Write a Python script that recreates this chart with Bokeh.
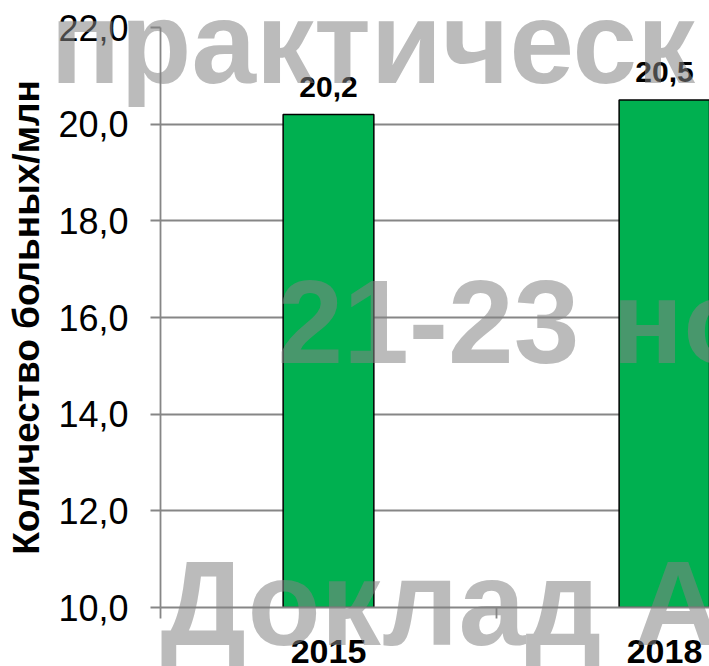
from bokeh.plotting import figure
from bokeh.models import Range1d, FixedTicker, ColumnDataSource, LabelSet
from bokeh.core.properties import value
from bokeh.embed import file_html
from bokeh.resources import INLINE

# ---- data ----
years = ["2015", "2018"]
values = [20.2, 20.5]
value_labels = ["20,2", "20,5"]
y_ticks = [10, 12, 14, 16, 18, 20, 22]
y_tick_labels = ["10,0", "12,0", "14,0", "16,0", "18,0", "20,0", "22,0"]
y_axis_title = "Количество больных/млн"
watermark_texts = ["практическ", "21-23 но", "Доклад А"]

# ---- styling ----
FONT = "Liberation Sans"
GREEN = "#00B050"
GRID = "#868686"
W, H = 709, 666

x_pos = list(range(len(years)))
src = ColumnDataSource(dict(x=x_pos, top=values, lab=value_labels))

p = figure(width=W, height=H, output_backend="svg", toolbar_location=None,
           x_range=Range1d(-0.5, 1.134), y_range=Range1d(10, 22),
           min_border_left=160, min_border_right=0, min_border_top=27, min_border_bottom=59)
p.outline_line_color = None
p.background_fill_color = "white"
p.border_fill_color = "white"

p.vbar(x="x", top="top", bottom=10, width=0.27, source=src,
       fill_color=GREEN, line_color="black", line_width=1.5)

# grid
p.xgrid.visible = False
p.ygrid.ticker = FixedTicker(ticks=y_ticks)
p.ygrid.grid_line_color = GRID
p.ygrid.grid_line_width = 1.8

# y axis
ya = p.yaxis[0]
ya.ticker = FixedTicker(ticks=y_ticks)
ya.major_label_overrides = {t: l for t, l in zip(y_ticks, y_tick_labels)}
ya.major_label_text_font = FONT
ya.major_label_text_font_size = "36px"
ya.major_label_text_color = "black"
ya.major_label_standoff = 22
ya.major_tick_out = 10
ya.major_tick_in = 0
ya.minor_tick_out = 0
ya.minor_tick_in = 0
ya.major_tick_line_color = GRID
ya.major_tick_line_width = 1.8
ya.axis_line_color = GRID
ya.axis_line_width = 1.8
ya.axis_label = y_axis_title
ya.axis_label_text_font = FONT
ya.axis_label_text_font_style = "bold"
ya.axis_label_text_font_size = "37px"
ya.axis_label_text_color = "black"
ya.axis_label_standoff = 8

# x axis
xa = p.xaxis[0]
xa.ticker = FixedTicker(ticks=x_pos, minor_ticks=[i - 0.5 for i in range(len(years) + 1)])
xa.major_label_overrides = {i: y for i, y in enumerate(years)}
xa.major_label_text_font = FONT
xa.major_label_text_font_style = "bold"
xa.major_label_text_font_size = "34px"
xa.major_label_text_color = "black"
xa.major_label_standoff = 21
xa.major_tick_out = 0
xa.major_tick_in = 0
xa.minor_tick_out = 11
xa.minor_tick_in = 0
xa.minor_tick_line_color = GRID
xa.minor_tick_line_width = 1.8
xa.axis_line_color = GRID
xa.axis_line_width = 1.8

# value labels
p.add_layout(LabelSet(x="x", y="top", text="lab", source=src, y_offset=18,
                      text_align="center", text_baseline="alphabetic",
                      text_font=value(FONT), text_font_style="bold", text_font_size="30px",
                      text_color="black"))

# ---- watermark overlay (decorative), pixel positions ----
wm_x = [50, 277, 160]
wm_y = [42, 321, 602]
wm_size = ["116px", "118px", "120px"]
wm = figure(width=W, height=H, output_backend="svg", toolbar_location=None,
            x_range=Range1d(0, W), y_range=Range1d(H, 0),
            min_border=0, min_border_left=0, min_border_right=0,
            min_border_top=0, min_border_bottom=0)
wm.axis.visible = False
wm.grid.visible = False
wm.outline_line_color = None
wm.background_fill_alpha = 0
wm.border_fill_alpha = 0
wsrc = ColumnDataSource(dict(x=wm_x, y=wm_y, t=watermark_texts, fs=wm_size))
wm.text(x="x", y="y", text="t", source=wsrc, text_font=value(FONT), text_font_style="bold",
        text_font_size="fs", text_color="#848484", text_alpha=0.55,
        text_baseline="alphabetic", text_align="left")
wm.styles = {"position": "absolute", "top": "0px", "left": "0px"}

open("out.html", "w").write(file_html([p, wm], INLINE))
